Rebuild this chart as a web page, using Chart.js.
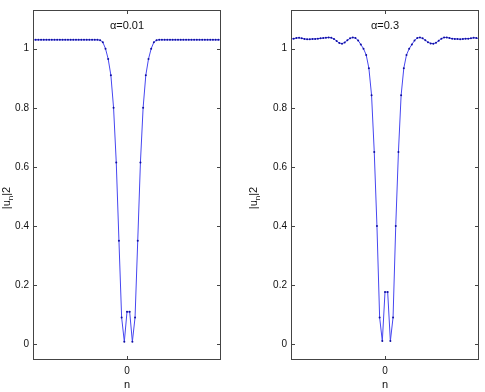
<!DOCTYPE html>
<html>
<head>
<meta charset="utf-8">
<script src="https://cdn.jsdelivr.net/npm/chart.js@4.4.1/dist/chart.umd.min.js"></script>
<style>
  body { margin: 0; background: #fff; }
  canvas { position: absolute; top: 0; }
</style>
</head>
<body>
<canvas id="left" width="242" height="392" style="left:0"></canvas>
<canvas id="right" width="243" height="392" style="left:242px"></canvas>
<script>
// lattice sites
const sites = [-35, -34, -33, -32, -31, -30, -29, -28, -27, -26, -25, -24, -23, -22, -21, -20, -19, -18,
  -17, -16, -15, -14, -13, -12, -11, -10, -9, -8, -7, -6, -5, -4, -3, -2, -1, 0,
  1, 2, 3, 4, 5, 6, 7, 8, 9, 10, 11, 12, 13, 14, 15, 16, 17, 18,
  19, 20, 21, 22, 23, 24, 25, 26, 27, 28, 29, 30, 31, 32, 33, 34, 35];

// |u_n|^2 for alpha = 0.01
const alpha001 = [1.03, 1.03, 1.03, 1.03, 1.03, 1.03, 1.03, 1.03, 1.03, 1.03, 1.03, 1.03, 1.03, 1.03, 1.03, 1.03, 1.03, 1.03,
  1.03, 1.03, 1.03, 1.03, 1.03, 1.03, 1.03, 1.029, 1.022, 1.0, 0.965, 0.91, 0.80, 0.615, 0.35, 0.09, 0.008, 0.109,
  0.109, 0.008, 0.09, 0.35, 0.615, 0.80, 0.91, 0.965, 1.0, 1.022, 1.029, 1.03, 1.03, 1.03, 1.03, 1.03, 1.03, 1.03,
  1.03, 1.03, 1.03, 1.03, 1.03, 1.03, 1.03, 1.03, 1.03, 1.03, 1.03, 1.03, 1.03, 1.03, 1.03, 1.03, 1.03];

// |u_n|^2 for alpha = 0.3
const alpha03 = [1.033, 1.034, 1.036, 1.037, 1.035, 1.033, 1.032, 1.032, 1.033, 1.033, 1.034, 1.035, 1.036, 1.037, 1.038, 1.037, 1.033, 1.026,
  1.019, 1.017, 1.021, 1.029, 1.035, 1.038, 1.036, 1.028, 1.014, 1.0, 0.979, 0.934, 0.842, 0.65, 0.40, 0.09, 0.01, 0.176,
  0.176, 0.01, 0.09, 0.40, 0.65, 0.842, 0.934, 0.979, 1.0, 1.014, 1.028, 1.036, 1.038, 1.035, 1.029, 1.022, 1.018, 1.017,
  1.020, 1.027, 1.034, 1.038, 1.038, 1.036, 1.034, 1.033, 1.033, 1.032, 1.033, 1.034, 1.034, 1.035, 1.037, 1.036, 1.034];

const yTicks = [0, 0.2, 0.4, 0.6, 0.8, 1];
const yTickLabels = ['0', '0.2', '0.4', '0.6', '0.8', '1'];
const xTicks = [0];
const xTickLabels = ['0'];

const FONT = '"Liberation Sans", Arial, Helvetica, sans-serif';

// matlab style box, inner ticks and labels
const frame = {
  id: 'frame',
  afterDraw(chart, args, opts) {
    const { ctx, chartArea: a, scales: { x, y } } = chart;
    ctx.save();
    ctx.strokeStyle = '#444';
    ctx.lineWidth = 1;
    ctx.strokeRect(a.left + 0.5, a.top + 0.5, a.right - a.left - 1, a.bottom - a.top - 1);

    ctx.beginPath();
    y.ticks.forEach(t => {
      const py = Math.round(y.getPixelForValue(t.value)) + 0.5;
      ctx.moveTo(a.left, py); ctx.lineTo(a.left + 4, py);
      ctx.moveTo(a.right, py); ctx.lineTo(a.right - 4, py);
    });
    x.ticks.forEach(t => {
      const px = Math.round(x.getPixelForValue(t.value)) + 0.5;
      ctx.moveTo(px, a.bottom); ctx.lineTo(px, a.bottom - 4);
      ctx.moveTo(px, a.top); ctx.lineTo(px, a.top + 4);
    });
    ctx.stroke();

    ctx.fillStyle = '#111';
    ctx.textAlign = 'center';
    ctx.textBaseline = 'middle';
    ctx.font = '11px ' + FONT;
    ctx.fillText(opts.title, (a.left + a.right) / 2, a.top + 16);
    ctx.fillText('n', x.getPixelForValue(0), 385);

    // y label |u_n|2 with subscript n
    ctx.translate(opts.ylabelX, 198);
    ctx.rotate(-Math.PI / 2);
    ctx.textAlign = 'left';
    const w1 = ctx.measureText('|u').width;
    ctx.font = '8px ' + FONT;
    const w2 = ctx.measureText('n').width;
    ctx.font = '11px ' + FONT;
    const w3 = ctx.measureText('|2').width;
    let sx = -(w1 + w2 + w3) / 2;
    ctx.fillText('|u', sx, 0);
    sx += w1;
    ctx.font = '8px ' + FONT;
    ctx.fillText('n', sx, 4);
    sx += w2;
    ctx.font = '11px ' + FONT;
    ctx.fillText('|2', sx, 0);
    ctx.restore();
  }
};

function makeChart(id, values, title, yWidth, rightPad, ylabelX) {
  return new Chart(document.getElementById(id), {
    type: 'line',
    data: {
      datasets: [{
        data: sites.map((n, i) => ({ x: n, y: values[i] })),
        borderColor: 'rgb(70,70,240)',
        borderWidth: 1,
        pointRadius: 1,
        pointBackgroundColor: '#1010a0',
        pointBorderWidth: 0,
        tension: 0
      }]
    },
    options: {
      responsive: false,
      devicePixelRatio: 1,
      animation: false,
      layout: { padding: { left: 0, right: rightPad, top: 8, bottom: 0 } },
      plugins: {
        legend: { display: false },
        tooltip: { enabled: false },
        frame: { title: title, ylabelX: ylabelX }
      },
      scales: {
        x: {
          type: 'linear',
          min: -35,
          max: 35,
          grid: { display: false, drawTicks: false },
          border: { display: false },
          afterBuildTicks: s => { s.ticks = xTicks.map(v => ({ value: v })); },
          afterFit: s => { s.height = 32; },
          ticks: {
            padding: 5,
            color: '#111',
            font: { size: 10, family: FONT },
            callback: v => xTickLabels[xTicks.indexOf(v)]
          }
        },
        y: {
          min: -0.054,
          max: 1.131,
          grid: { display: false, drawTicks: false },
          border: { display: false },
          afterBuildTicks: s => { s.ticks = yTicks.map(v => ({ value: v })); },
          afterFit: s => { s.width = yWidth; },
          ticks: {
            padding: 4,
            color: '#111',
            font: { size: 10, family: FONT },
            callback: v => yTickLabels[yTicks.indexOf(v)]
          }
        }
      }
    },
    plugins: [frame]
  });
}

makeChart('left', alpha001, 'α=0.01', 33, 21, 7);
makeChart('right', alpha03, 'α=0.3', 49, 6, 12);
</script>
</body>
</html>
